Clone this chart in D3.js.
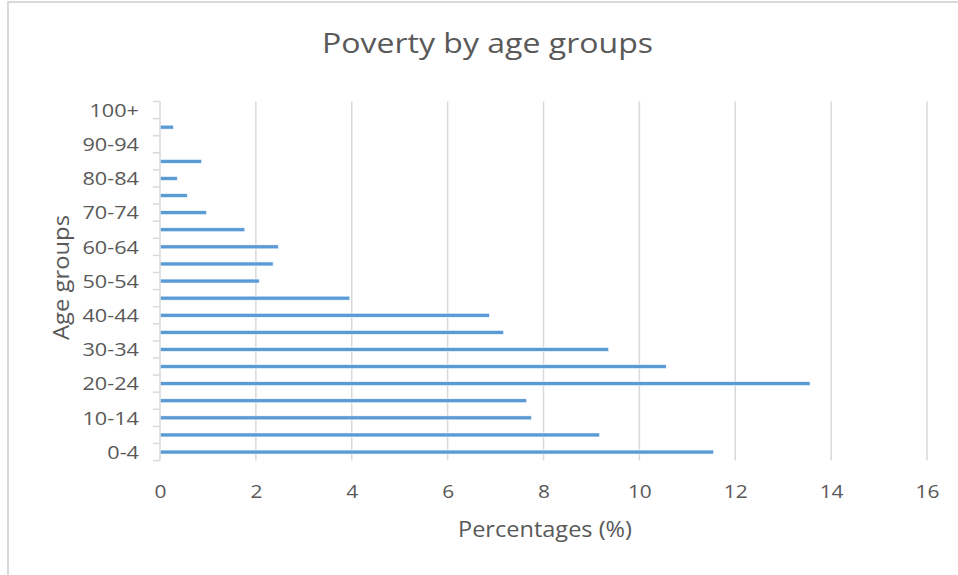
<!DOCTYPE html>
<html>
<head>
<meta charset="utf-8">
<script src="https://cdn.jsdelivr.net/npm/d3@7"></script>
<style>
  html, body { margin: 0; padding: 0; background: #fff; }
  svg { display: block; }
  text { font-family: "Open Sans", sans-serif; fill: #595959; }
</style>
</head>
<body>
<svg id="chart" width="958" height="575"></svg>
<script>
// Age groups, youngest first
const ageGroups = ["0-4", "5-9", "10-14", "15-19", "20-24", "25-29", "30-34", "35-39",
  "40-44", "45-49", "50-54", "55-59", "60-64", "65-69", "70-74", "75-79",
  "80-84", "85-89", "90-94", "95-99", "100+"];

// Share of people in poverty per age group (%)
const povertyPct = [11.55, 9.17, 7.75, 7.65, 13.56, 10.56, 9.36, 7.17,
  6.87, 3.96, 2.07, 2.36, 2.47, 1.77, 0.97, 0.57,
  0.36, 0.87, 0, 0.28, 0];

// Only every other group is labelled on the axis
const yTickLabels = ["0-4", "10-14", "20-24", "30-34", "40-44", "50-54",
  "60-64", "70-74", "80-84", "90-94", "100+"];
const xTicks = [0, 2, 4, 6, 8, 10, 12, 14, 16];

const titleText = "Poverty by age groups";
const xTitle = "Percentages (%)";
const yTitle = "Age groups";

const rows = ageGroups.map((g, i) => ({ group: g, value: povertyPct[i] }));

const W = 958, H = 575;
const margin = { top: 101.5, right: 31, bottom: 114.4, left: 160 };
const svg = d3.select("#chart");

const gridColor = "#d9d9d9";
const barColor = "#5b9bd5";

// Widen glyphs slightly so text carries the chart's broader lettering
function widen(sel, k) {
  sel.each(function () {
    const len = this.getComputedTextLength();
    d3.select(this).attr("textLength", len * k).attr("lengthAdjust", "spacingAndGlyphs");
  });
}

// chart area frame
svg.append("rect")
  .attr("x", 8).attr("y", 2)
  .attr("width", 1200).attr("height", 1200)
  .attr("fill", "none")
  .attr("stroke", gridColor).attr("stroke-width", 2);

const x = d3.scaleLinear()
  .domain([0, 16])
  .range([margin.left, W - margin.right]);

const y = d3.scaleBand()
  .domain(ageGroups.slice().reverse())
  .range([margin.top, H - margin.bottom])
  .paddingInner(0).paddingOuter(0);

const bottomY = H - margin.bottom;

// vertical gridlines
svg.append("g")
  .selectAll("line")
  .data(xTicks.filter(t => t > 0))
  .join("line")
  .attr("x1", d => x(d)).attr("x2", d => x(d))
  .attr("y1", margin.top).attr("y2", bottomY)
  .attr("stroke", gridColor).attr("stroke-width", 1.5);

// bars
const barH = 4;
svg.append("g")
  .selectAll("rect")
  .data(rows.filter(d => d.value > 0))
  .join("rect")
  .attr("x", x(0))
  .attr("y", d => y(d.group) + y.bandwidth() / 2 - barH / 2)
  .attr("width", d => x(d.value) - x(0))
  .attr("height", barH)
  .attr("fill", barColor)
  .attr("stroke", "#ffffff").attr("stroke-width", 0.6);

// y axis: line plus ticks at band boundaries
const yAxisG = svg.append("g");
yAxisG.append("line")
  .attr("x1", x(0)).attr("x2", x(0))
  .attr("y1", margin.top).attr("y2", bottomY)
  .attr("stroke", gridColor).attr("stroke-width", 1.5);

const boundaries = [margin.top].concat(ageGroups.map(g => y(g) + y.bandwidth()));
yAxisG.selectAll("line.tick")
  .data(boundaries)
  .join("line")
  .attr("class", "tick")
  .attr("x1", x(0) - 7).attr("x2", x(0))
  .attr("y1", d => d).attr("y2", d => d)
  .attr("stroke", gridColor).attr("stroke-width", 1.5);

const yAxis = d3.axisLeft(y).tickValues(yTickLabels).tickSize(0).tickPadding(21);
const yAxisLabels = svg.append("g")
  .attr("transform", `translate(${x(0)},0)`)
  .call(yAxis);
yAxisLabels.select(".domain").remove();
yAxisLabels.selectAll("text")
  .attr("font-family", "Open Sans")
  .attr("font-size", 19)
  .attr("fill", "#595959")
  .attr("dy", "0.35em");
widen(yAxisLabels.selectAll("text"), 1.14);

// x axis labels
const xAxis = d3.axisBottom(x).tickValues(xTicks).tickSize(0).tickPadding(24)
  .tickFormat(d3.format("d"));
const xAxisG = svg.append("g")
  .attr("transform", `translate(0,${bottomY})`)
  .call(xAxis);
xAxisG.select(".domain").remove();
xAxisG.selectAll("text")
  .attr("font-family", "Open Sans")
  .attr("font-size", 19)
  .attr("fill", "#595959");
widen(xAxisG.selectAll("text"), 1.1);

// chart title
svg.append("text")
  .attr("x", 487.5).attr("y", 53)
  .attr("text-anchor", "middle")
  .attr("font-size", 27)
  .attr("textLength", 331).attr("lengthAdjust", "spacingAndGlyphs")
  .text(titleText);

// x axis title
svg.append("text")
  .attr("x", 545).attr("y", 537)
  .attr("text-anchor", "middle")
  .attr("font-size", 21)
  .attr("textLength", 174).attr("lengthAdjust", "spacingAndGlyphs")
  .text(xTitle);

// y axis title
svg.append("text")
  .attr("transform", `translate(69,${277.5}) rotate(-90)`)
  .attr("text-anchor", "middle")
  .attr("font-size", 21)
  .attr("textLength", 125).attr("lengthAdjust", "spacingAndGlyphs")
  .text(yTitle);
</script>
</body>
</html>
